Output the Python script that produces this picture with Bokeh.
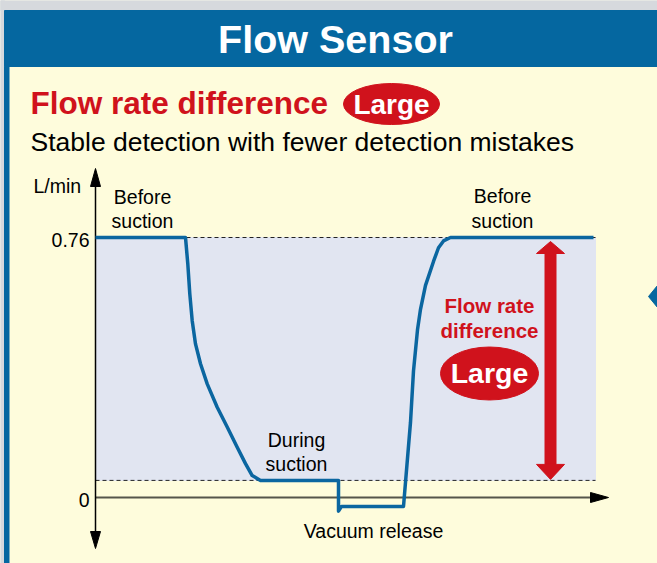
from bokeh.plotting import figure
from bokeh.models import Range1d, Label
from bokeh.core.properties import value
from bokeh.embed import file_html
from bokeh.resources import INLINE

# ---------------- data ----------------
time_s = [0.00, 0.90, 0.923, 0.943, 0.967, 1.00, 1.05, 1.117, 1.217, 1.317, 1.417, 1.50, 1.567, 1.65,
          2.43, 2.43, 2.46, 3.08, 3.15, 3.18, 3.22, 3.25, 3.30, 3.38, 3.43, 3.48, 3.55, 4.98]
flow_lpm = [0.76, 0.76, 0.683, 0.595, 0.517, 0.449, 0.391, 0.332, 0.264, 0.206, 0.147, 0.099, 0.064, 0.05,
            0.05, -0.04, -0.026, -0.026, 0.22, 0.37, 0.49, 0.55, 0.62, 0.69, 0.73, 0.75, 0.76, 0.76]
level_before = 0.76
level_during = 0.05
y_ticks = [0, 0.76]
y_tick_labels = ["0", "0.76"]
y_unit = "L/min"
title_text = "Flow Sensor"
headline = "Flow rate difference"
badge = "Large"
subline = "Stable detection with fewer detection mistakes"
phase_before = ["Before", "suction"]
phase_during = ["During", "suction"]
phase_release = "Vacuum release"
diff_text = ["Flow rate", "difference"]

# ---------------- style / layout ----------------
CREAM = "#fefcdc"
BLUE = "#0567a0"
LINE_BLUE = "#0b66a0"
RED = "#d0121c"
SHADE = "#e1e5f1"
GRAY = "#d6d9dd"
FONT = "Liberation Sans"

W, H = 657, 563
OX, OY = 95, 497       # pixel position of the axis origin
SX, SY = 100.0, 342.1  # px per second, px per L/min


def X(px):
    return (px - OX) / SX


def Y(py):
    return (OY - py) / SY


p = figure(width=W, height=H,
           x_range=Range1d(X(0), X(W)),
           y_range=Range1d(Y(H), Y(0)),
           x_axis_location=None, y_axis_location=None,
           output_backend="svg", toolbar_location=None, min_border=0)
p.grid.visible = False
p.outline_line_color = None
p.background_fill_color = CREAM
p.border_fill_color = CREAM

# frame: gray edge, header band and left border
p.quad(left=X(0), right=X(W), top=Y(0), bottom=Y(10), color=GRAY)
p.quad(left=X(0), right=X(4), top=Y(0), bottom=Y(H), color=GRAY)
p.quad(left=X(4), right=X(W), top=Y(10), bottom=Y(66), color=BLUE)
p.quad(left=X(4), right=X(8.5), top=Y(66), bottom=Y(H), color=BLUE)
p.patch([X(648), X(657), X(657)], [Y(296), Y(285), Y(307)], color=BLUE)


def lbl(txt, x, y, size, color="black", bold=False, align="left"):
    # y is the wanted baseline; text is anchored by the middle of its em box
    p.add_layout(Label(x=X(x), y=Y(y - 0.35 * size), text=txt, text_font=FONT,
                       text_font_size=f"{size}px",
                       text_font_style="bold" if bold else "normal",
                       text_color=color, text_align=align,
                       text_baseline="middle"))


lbl(title_text, 335, 52, 39.5, color="white", bold=True, align="center")
lbl(headline, 30, 114, 31.5, color=RED, bold=True)
p.ellipse(x=X(391), y=Y(103.5), width=96 / SX, height=41 / SY, color=RED)
lbl(badge, 391, 113.5, 28, color="white", bold=True, align="center")
lbl(subline, 30, 151, 26.5)

# shaded band and dashed levels
t_end = time_s[-1]
p.quad(left=time_s[0], right=t_end + 0.02, bottom=level_during, top=level_before,
       color=SHADE)
p.segment(x0=[0, 0], x1=[t_end + 0.02] * 2, y0=[level_before, level_during],
          y1=[level_before, level_during], line_color="#222222", line_width=1,
          line_dash="4 3")

# axes
p.segment(x0=0, x1=X(592), y0=0, y1=0, line_color="#55554a", line_width=2)
p.patch([X(590), X(608), X(590)], [Y(492), Y(497), Y(502)], color="black")
p.segment(x0=0, x1=0, y0=Y(532), y1=Y(185), line_color="black", line_width=1.5)
p.patch([X(90), X(95), X(100)], [Y(186), Y(168), Y(186)], color="black")
p.patch([X(90), X(95), X(100)], [Y(531), Y(548), Y(531)], color="black")
p.text(x=[X(89)] * len(y_ticks), y=y_ticks, text=y_tick_labels,
       text_align="right", text_baseline="middle", y_offset=2,
       text_font=value(FONT), text_font_size=value("19.5px"), text_color="black")
lbl(y_unit, 33, 192, 19.5)

# flow curve
p.line(time_s, flow_lpm, line_width=3.5, line_color=LINE_BLUE, line_join="round")

# difference arrow
ax = X(550)
hw = 14 / SX
hl = 16 / SY
sw = 5.5 / SX
p.quad(left=ax - sw, right=ax + sw, bottom=level_during + hl, top=level_before - hl,
       color=RED)
p.patch([ax - hw, ax, ax + hw], [level_before - hl, level_before - 4 / SY, level_before - hl], color=RED)
p.patch([ax - hw, ax, ax + hw], [level_during + hl, level_during + 1 / SY, level_during + hl], color=RED)

lbl(diff_text[0], 489, 312, 20.5, color=RED, bold=True, align="center")
lbl(diff_text[1], 489, 337, 20.5, color=RED, bold=True, align="center")
p.ellipse(x=X(489), y=Y(373), width=98 / SX, height=53 / SY, color=RED)
lbl(badge, 489, 382, 28.5, color="white", bold=True, align="center")

# phase labels
lbl(phase_before[0], 142, 203, 19.5, align="center")
lbl(phase_before[1], 142, 227, 19.5, align="center")
lbl(phase_before[0], 502, 202, 19.5, align="center")
lbl(phase_before[1], 502, 227, 19.5, align="center")
lbl(phase_during[0], 296, 446, 19.5, align="center")
lbl(phase_during[1], 296, 470, 19.5, align="center")
lbl(phase_release, 373, 537, 19.5, align="center")

open("out.html", "w").write(file_html(p, INLINE))
